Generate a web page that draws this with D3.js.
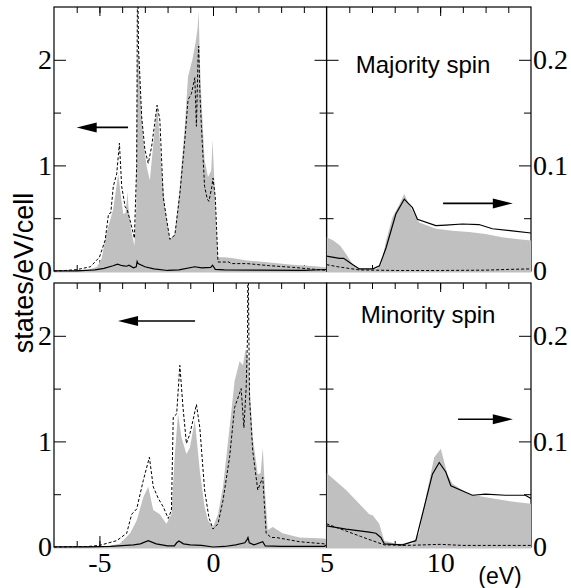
<!DOCTYPE html>
<html>
<head>
<meta charset="utf-8">
<script src="https://cdn.jsdelivr.net/npm/d3@7"></script>
<style>
  body { margin: 0; background: #fff; }
</style>
</head>
<body>
<div id="chart"></div>
<script>
// energy (eV) vs DOS; points above 5 eV are read on the right-hand axis (x10)
const majTotal = [[-7,0],[-6,0],[-5.5,0.01],[-5.1,0.04],[-4.9,0.12],[-4.7,0.35],[-4.4,0.58],[-4.25,0.8],[-4.17,0.92],[-4.05,0.7],[-3.95,0.54],[-3.85,0.55],[-3.76,0.75],[-3.72,0.6],[-3.6,0.38],[-3.46,0.24],[-3.38,0.6],[-3.34,1.95],[-3.28,2.1],[-3.2,1.7],[-3.07,1.24],[-2.92,0.99],[-2.78,0.86],[-2.63,1.2],[-2.46,1.56],[-2.36,1.3],[-2.27,0.99],[-2.12,0.61],[-1.9,0.3],[-1.68,0.35],[-1.46,0.8],[-1.24,1.37],[-1.1,1.84],[-0.91,2.0],[-0.76,2.17],[-0.68,2.3],[-0.63,2.46],[-0.58,2.0],[-0.51,1.62],[-0.37,1.05],[-0.22,0.89],[-0.08,0.95],[-0.02,1.24],[0.05,0.9],[0.15,0.4],[0.22,0.13],[0.5,0.13],[0.9,0.12],[1.5,0.1],[2.5,0.08],[3.5,0.06],[4.5,0.045],[5,0.032],
  [5.3,0.029],[5.6,0.024],[5.86,0.016],[6.16,0.006],[6.45,0.002],[7.18,0.002],[7.4,0.006],[7.62,0.029],[7.9,0.051],[8.2,0.063],[8.42,0.073],[8.64,0.063],[8.93,0.051],[9.08,0.046],[9.81,0.04],[10.54,0.038],[11.27,0.037],[12.0,0.035],[12.73,0.032],[13.46,0.030],[14,0.029]];
const majDashed = [[-7,0],[-6.5,0.005],[-6,0.013],[-5.4,0.04],[-5,0.13],[-4.75,0.29],[-4.6,0.54],[-4.5,0.55],[-4.39,0.8],[-4.24,0.92],[-4.12,1.21],[-4.02,0.8],[-3.87,0.61],[-3.78,0.58],[-3.65,0.48],[-3.46,0.31],[-3.36,1.0],[-3.32,3.0],[-3.28,2.1],[-3.24,1.94],[-3.14,1.46],[-3.0,1.15],[-2.85,1.02],[-2.7,1.18],[-2.46,1.57],[-2.34,1.43],[-2.19,0.7],[-2.05,0.5],[-1.9,0.3],[-1.68,0.34],[-1.46,0.73],[-1.24,1.24],[-1.1,1.62],[-0.95,1.68],[-0.8,1.83],[-0.73,1.37],[-0.66,2.0],[-0.63,2.13],[-0.58,1.7],[-0.51,1.37],[-0.37,0.8],[-0.25,0.68],[-0.18,0.66],[-0.05,0.8],[0,0.88],[0.1,0.7],[0.22,0.085],[0.7,0.085],[0.8,0.07],[1.5,0.07],[2.5,0.05],[3.5,0.035],[4.5,0.015],[5,0.006],
  [5.5,0.004],[6.45,0.001],[8,0.0005],[10,0.0005],[12,0.0008],[13,0.0015],[14,0.002]];
const majSolid = [[-7,0],[-6,0.002],[-5.2,0.01],[-4.8,0.025],[-4.4,0.05],[-4.2,0.065],[-4.0,0.05],[-3.8,0.045],[-3.7,0.055],[-3.5,0.03],[-3.38,0.04],[-3.34,0.09],[-3.3,0.07],[-3.0,0.04],[-2.6,0.02],[-2.0,0.005],[-1.5,0.01],[-0.8,0.04],[-0.5,0.03],[-0.1,0.035],[-0.02,0.055],[0.1,0.015],[0.5,0.01],[2,0.008],[4,0.006],[5,0.014],
  [5.57,0.012],[5.75,0.012],[6.16,0.006],[6.45,0.002],[7.04,0.002],[7.33,0.005],[7.62,0.022],[8.05,0.054],[8.42,0.068],[8.78,0.06],[9.0,0.049],[9.81,0.043],[10.25,0.0435],[10.98,0.0445],[11.71,0.044],[12.3,0.04],[13.17,0.038],[14,0.036]];

const minTotal = [[-7,0],[-5,0.005],[-4.5,0.015],[-4.1,0.03],[-3.65,0.13],[-3.36,0.25],[-3.07,0.47],[-2.85,0.57],[-2.63,0.35],[-2.34,0.31],[-2.05,0.22],[-1.83,0.31],[-1.68,0.88],[-1.54,1.26],[-1.39,1.04],[-1.17,0.88],[-1.02,0.94],[-0.8,1.2],[-0.58,0.72],[-0.37,0.38],[-0.22,0.25],[0,0.19],[0.22,0.31],[0.44,0.57],[0.73,1.13],[0.95,1.57],[1.17,1.76],[1.32,1.72],[1.43,1.87],[1.54,1.8],[1.75,1.04],[1.97,0.69],[2.1,0.7],[2.19,0.94],[2.3,0.5],[2.41,0.16],[2.63,0.19],[3.07,0.13],[3.8,0.09],[4.9,0.08],[5,0.07],
  [5.86,0.054],[6.88,0.031],[7.03,0.03],[7.32,0.022],[7.54,0.006],[8.05,0.003],[8.78,0.003],[9.08,0.013],[9.37,0.047],[9.74,0.085],[10.03,0.093],[10.32,0.069],[10.54,0.06],[11.27,0.05],[12.0,0.047],[12.87,0.044],[13.6,0.042],[14,0.041]];
const minDashed = [[-7,0],[-5.5,0.005],[-5,0.015],[-4.24,0.06],[-3.8,0.13],[-3.58,0.31],[-3.36,0.36],[-3.07,0.63],[-2.8,0.85],[-2.63,0.57],[-2.41,0.46],[-2.19,0.38],[-1.97,0.27],[-1.83,0.35],[-1.75,1.23],[-1.6,1.26],[-1.46,1.72],[-1.32,1.32],[-1.17,0.98],[-1.02,1.07],[-0.88,1.2],[-0.73,1.35],[-0.58,1.13],[-0.37,0.54],[-0.18,0.28],[0,0.17],[0.22,0.22],[0.44,0.44],[0.73,0.85],[0.95,1.32],[1.24,1.5],[1.36,1.13],[1.46,1.51],[1.52,2.0],[1.54,3.0],[1.58,2.0],[1.61,1.4],[1.75,0.91],[1.97,0.54],[2.19,0.66],[2.34,0.13],[2.56,0.09],[2.78,0.09],[3.8,0.05],[4.9,0.03],[5,0.022],
  [5.5,0.018],[6.5,0.01],[7.54,0.002],[8.5,0.0015],[10,0.0025],[11,0.0015],[12,0.0015],[14,0.0015]];
const minSolid = [[-7,0],[-5.5,0.002],[-4.5,0.005],[-3.5,0.02],[-3.2,0.03],[-2.85,0.06],[-2.5,0.03],[-2.0,0.01],[-1.7,0.01],[-1.6,0.04],[-1.5,0.057],[-1.3,0.03],[-1.0,0.02],[-0.5,0.015],[0,0.0],[0.5,0.005],[1.0,0.02],[1.4,0.04],[1.5,0.07],[1.54,0.09],[1.6,0.04],[1.8,0.02],[2.19,0.05],[2.3,0.01],[3,0.006],[4.9,0.006],[5,0.020],
  [5.86,0.017],[6.88,0.014],[7.17,0.013],[7.39,0.009],[7.54,0.003],[8.34,0.002],[8.93,0.006],[9.22,0.031],[9.66,0.069],[9.96,0.08],[10.25,0.071],[10.47,0.058],[11.42,0.049],[12,0.05],[12.87,0.049],[13.75,0.049],[14,0.046]];

const minorE = d3.range(-6, 14);
const majorE = [-5, 0, 5, 10];
const leftMinor = [0.5, 1.5];
const leftMajor = [0, 1, 2];
const leftLabels = [0, 1, 2];
const rightLabels = [0, 0.1, 0.2];
const split = 5;

const serif = '"Liberation Serif", "Times New Roman", serif';
const sans = '"Liberation Sans", Arial, sans-serif';

const width = 571, height = 588;
const x = d3.scaleLinear().domain([-7, 14]).range([54, 531]);

const svg = d3.select('#chart').append('svg')
  .attr('width', width)
  .attr('height', height);

const panels = [
  { id: 'maj', label: 'Majority spin', total: majTotal, dashed: majDashed, solid: majSolid,
    top: 7, bottom: 271, labelAt: [9.25, 0.1875],
    arrowL: { from: -3.74, to: -6.0, v: 1.36 }, arrowR: { from: 10.13, to: 13.2, v: 0.064 } },
  { id: 'min', label: 'Minority spin', total: minTotal, dashed: minDashed, solid: minSolid,
    top: 283, bottom: 547, labelAt: [9.47, 0.212],
    arrowL: { from: -0.79, to: -4.18, v: 2.14 }, arrowR: { from: 10.79, to: 13.2, v: 0.121 } }
];

function inwardTicks(g, axis, values, size) {
  g.call(axis.tickValues(values).tickSize(-size).tickSizeOuter(0).tickFormat(''));
  g.select('.domain').remove();
  g.selectAll('line').attr('stroke', '#000').attr('stroke-width', 1);
}

function numberLabels(g) {
  g.select('.domain').remove();
  g.selectAll('text')
    .style('font-family', serif)
    .style('font-size', '28px')
    .attr('fill', '#000');
}

function arrow(g, x1, x2, y) {
  const dir = Math.sign(x2 - x1);
  g.append('line')
    .attr('x1', x1).attr('x2', x2 - dir * 16)
    .attr('y1', y).attr('y2', y)
    .attr('stroke', '#000').attr('stroke-width', 1.6);
  g.append('path')
    .attr('d', `M${x2},${y}L${x2 - dir * 20},${y - 5}L${x2 - dir * 20},${y + 5}Z`)
    .attr('fill', '#000');
}

panels.forEach(p => {
  const yL = d3.scaleLinear().domain([0, 2.5]).range([p.bottom, p.top]);
  const yR = d3.scaleLinear().domain([0, 0.25]).range([p.bottom, p.top]);
  const halves = [
    { key: 'l', e0: -7, e1: split, y: yL, keep: d => d[0] <= split },
    { key: 'r', e0: split, e1: 14, y: yR, keep: d => d[0] >= split }
  ];
  const g = svg.append('g').attr('class', 'panel-' + p.id);

  halves.forEach(h => {
    const clipId = `clip-${p.id}-${h.key}`;
    svg.append('clipPath').attr('id', clipId)
      .append('rect')
      .attr('x', x(h.e0)).attr('y', p.top)
      .attr('width', x(h.e1) - x(h.e0)).attr('height', p.bottom - p.top + 3);

    // frame
    g.append('rect')
      .attr('x', x(h.e0)).attr('y', p.top)
      .attr('width', x(h.e1) - x(h.e0)).attr('height', p.bottom - p.top)
      .attr('fill', 'none').attr('stroke', '#000').attr('stroke-width', 1.2);

    // ticks, all pointing inside
    const inHalf = v => v > h.e0 && v < h.e1;
    inwardTicks(g.append('g').attr('transform', `translate(0,${p.top})`),
      d3.axisTop(x), minorE.filter(inHalf), 6);
    inwardTicks(g.append('g').attr('transform', `translate(0,${p.bottom})`),
      d3.axisBottom(x), minorE.filter(inHalf), 6);
    inwardTicks(g.append('g').attr('transform', `translate(0,${p.bottom})`),
      d3.axisBottom(x), majorE.filter(inHalf), 11);
    inwardTicks(g.append('g').attr('transform', `translate(0,${p.top})`),
      d3.axisTop(x), majorE.filter(inHalf), 9);

    const yAx = h.key === 'l' ? yL : yR;
    const minor = h.key === 'l' ? leftMinor : leftMinor.map(v => v / 10);
    const major = h.key === 'l' ? leftMajor : leftMajor.map(v => v / 10);
    inwardTicks(g.append('g').attr('transform', `translate(${x(h.e0)},0)`),
      d3.axisLeft(yAx), minor, 7);
    inwardTicks(g.append('g').attr('transform', `translate(${x(h.e0)},0)`),
      d3.axisLeft(yAx), major, 12);
    inwardTicks(g.append('g').attr('transform', `translate(${x(h.e1)},0)`),
      d3.axisRight(yAx), minor, 7);
    inwardTicks(g.append('g').attr('transform', `translate(${x(h.e1)},0)`),
      d3.axisRight(yAx), major, 12);

    const plot = g.append('g').attr('clip-path', `url(#${clipId})`);
    const area = d3.area()
      .x(d => x(d[0]))
      .y0(h.y(0) + 1.5)
      .y1(d => h.y(d[1]));
    const line = d3.line()
      .x(d => x(d[0]))
      .y(d => h.y(d[1]));

    plot.append('path')
      .datum(p.total.filter(h.keep))
      .attr('d', area)
      .attr('fill', '#c0c0c0');
    plot.append('path')
      .datum(p.dashed.filter(h.keep))
      .attr('d', line)
      .attr('fill', 'none')
      .attr('stroke', '#000')
      .attr('stroke-width', 1)
      .attr('stroke-dasharray', '3,2');
    plot.append('path')
      .datum(p.solid.filter(h.keep))
      .attr('d', line)
      .attr('fill', 'none')
      .attr('stroke', '#000')
      .attr('stroke-width', 1.2);
  });

  // tick labels
  g.append('g').attr('transform', `translate(${x(-7)},0)`)
    .call(d3.axisLeft(yL).tickValues(leftLabels).tickSize(0).tickPadding(2).tickFormat(d => String(d)))
    .call(numberLabels);

  g.append('g').attr('transform', `translate(${x(14)},0)`)
    .call(d3.axisRight(yR).tickValues(rightLabels).tickSize(0).tickPadding(2)
      .tickFormat(d => d === 0 ? '0' : d.toFixed(1)))
    .call(numberLabels);

  g.append('text')
    .attr('x', x(p.labelAt[0]))
    .attr('y', yR(p.labelAt[1]))
    .attr('text-anchor', 'middle')
    .style('font-family', sans)
    .style('font-size', '24px')
    .text(p.label);

  arrow(g, x(p.arrowL.from), x(p.arrowL.to), yL(p.arrowL.v));
  arrow(g, x(p.arrowR.from), x(p.arrowR.to), yR(p.arrowR.v));
});

// energy labels under the lower panel
svg.append('g').attr('transform', `translate(0,${panels[1].bottom})`)
  .call(d3.axisBottom(x).tickValues(majorE).tickSize(0).tickPadding(5).tickFormat(d => String(d)))
  .call(numberLabels);

svg.append('text')
  .attr('x', 500)
  .attr('y', 584)
  .attr('text-anchor', 'middle')
  .style('font-family', sans)
  .style('font-size', '23px')
  .text('(eV)');

svg.append('text')
  .attr('transform', 'translate(33,273) rotate(-90)')
  .attr('text-anchor', 'middle')
  .style('font-family', sans)
  .style('font-size', '27px')
  .text('states/eV/cell');
</script>
</body>
</html>
